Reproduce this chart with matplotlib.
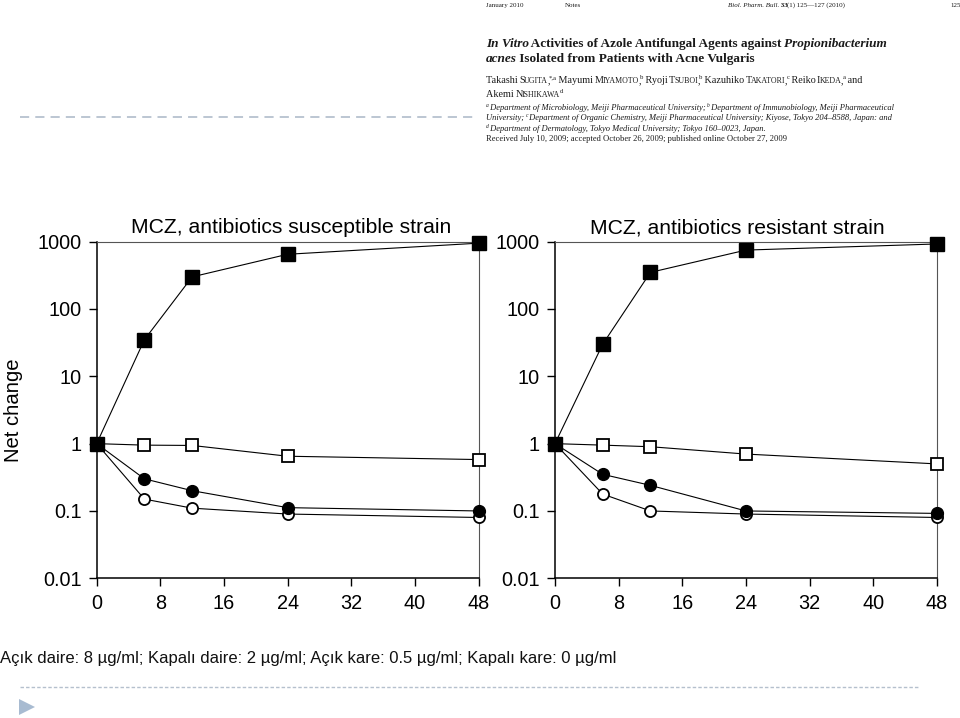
import matplotlib
matplotlib.use("Agg")
import matplotlib.pyplot as plt
from matplotlib.ticker import NullLocator

plt.rcParams['font.family'] = ['Liberation Sans', 'DejaVu Sans']

# time points (h) and net change values
hours = [0, 6, 12, 24, 48]
susceptible_0 = [1, 35, 300, 650, 950]
susceptible_05 = [1, 0.95, 0.94, 0.65, 0.58]
susceptible_2 = [1, 0.30, 0.20, 0.112, 0.10]
susceptible_8 = [1, 0.15, 0.11, 0.09, 0.08]
resistant_0 = [1, 30, 350, 750, 925]
resistant_05 = [1, 0.95, 0.90, 0.70, 0.50]
resistant_2 = [1, 0.35, 0.24, 0.10, 0.092]
resistant_8 = [1, 0.178, 0.10, 0.09, 0.08]

xticks = [0, 8, 16, 24, 32, 40, 48]
yticks = [0.01, 0.1, 1, 10, 100, 1000]
ytick_labels = ['0.01', '0.1', '1', '10', '100', '1000']

titles = ['MCZ, antibiotics susceptible strain', 'MCZ, antibiotics resistant strain']
caption = 'Açık daire: 8 µg/ml; Kapalı daire: 2 µg/ml; Açık kare: 0.5 µg/ml; Kapalı kare: 0 µg/ml'

fig = plt.figure(figsize=(9.6, 7.18), dpi=100)

# background axes in pixel coordinates for the slide decoration
bg = fig.add_axes([0, 0, 1, 1], zorder=-1)
bg.set_xlim(0, 960)
bg.set_ylim(718, 0)
bg.axis('off')

SERIF = ['Liberation Serif', 'DejaVu Serif']
INK = '#1a1a1a'


def text_line(x, y, pieces, size):
    """Draw one baseline of text made of styled pieces, chained left to right."""
    prev = None
    for txt, style in pieces:
        kw = dict(fontsize=size, family=SERIF, color=INK)
        rise = 0
        if style.get('b'):
            kw['fontweight'] = 'bold'
        if style.get('i'):
            kw['fontstyle'] = 'italic'
        if style.get('sc'):
            kw['fontsize'] = size * 0.78
        if style.get('sup'):
            kw['fontsize'] = size * 0.65
            rise = size * 0.4
        if prev is None:
            coords, xy, kern = 'data', (x, y), 0
        else:
            # matplotlib text boxes carry a little side bearing, pull pieces together
            coords, xy, kern = (prev, 'data'), (1, y), -0.08 * size
        prev = bg.annotate(txt, xy=xy, xycoords=coords, xytext=(kern, rise),
                           textcoords='offset points', va='baseline', ha='left', **kw)
    return prev


N = {}
B = {'b': True}
BI = {'b': True, 'i': True}
I = {'i': True}
SC = {'sc': True}
SUP = {'sup': True}
ISUP = {'sup': True, 'i': True}

# journal header
text_line(486, 7, [('January 2010', N)], 5)
text_line(565, 7, [('Notes', N)], 5)
text_line(728, 7, [('Biol. Pharm. Bull.', I), (' 33', B), ('(1) 125—127 (2010)', N)], 5)
text_line(950, 7, [('125', N)], 5)

text_line(486, 47, [('In Vitro', BI), (' Activities of Azole Antifungal Agents against ', B),
                    ('Propionibacterium', BI)], 9.5)
text_line(486, 62, [('acnes', BI), (' Isolated from Patients with Acne Vulgaris', B)], 9.5)

text_line(486, 83, [('Takashi ', N), ('S', N), ('UGITA', SC), (',', N), ('*,a', SUP),
                    (' Mayumi ', N), ('M', N), ('IYAMOTO', SC), (',', N), ('b', SUP),
                    (' Ryoji ', N), ('T', N), ('SUBOI', SC), (',', N), ('b', SUP),
                    (' Kazuhiko ', N), ('T', N), ('AKATORI', SC), (',', N), ('c', SUP),
                    (' Reiko ', N), ('I', N), ('KEDA', SC), (',', N), ('a', SUP), (' and', N)], 7.3)
text_line(486, 97, [('Akemi ', N), ('N', N), ('ISHIKAWA', SC), ('d', SUP)], 7.3)

text_line(486, 110, [('a', ISUP), (' Department of Microbiology, Meiji Pharmaceutical University; ', I),
                     ('b', ISUP), (' Department of Immunobiology, Meiji Pharmaceutical', I)], 6.15)
text_line(486, 120, [('University; ', I), ('c', ISUP),
                     (' Department of Organic Chemistry, Meiji Pharmaceutical University; Kiyose, Tokyo 204–8588, Japan: and', I)], 6.15)
text_line(486, 131, [('d', ISUP), (' Department of Dermatology, Tokyo Medical University; Tokyo 160–0023, Japan.', I)], 6.15)
text_line(486, 141, [('Received July 10, 2009; accepted October 26, 2009; published online October 27, 2009', N)], 6.15)

# slide decoration
bg.plot([20, 475], [117, 117], color='#a9b6c6', lw=1.1, linestyle=(0, (6, 4)))
bg.plot([20, 920], [687, 687], color='#b5c0cd', lw=1.0, linestyle=(0, (2.5, 1.5)))
bg.plot([27], [707], marker='>', ms=12, color='#a8bbd1', markeredgewidth=0)

bg.text(0, 658, caption, fontsize=12, va='center', ha='left', color='#111111')

# charts
panels = [
    (0.1007, 0.508, titles[0], susceptible_0, susceptible_05, susceptible_2, susceptible_8),
    (0.5781, 0.477, titles[1], resistant_0, resistant_05, resistant_2, resistant_8),
]

for left, title_x, title, v0, v05, v2, v8 in panels:
    ax = fig.add_axes([left, 0.1946, 0.3978, 0.4688])
    ax.set_yscale('log')
    ax.set_xlim(0, 48)
    ax.set_ylim(0.01, 1000)

    ax.plot(hours, v05, color='black', lw=0.8, marker='s', ms=8, mfc='white',
            mec='black', mew=1.3, clip_on=False, zorder=3)
    ax.plot(hours, v8, color='black', lw=0.8, marker='o', ms=8, mfc='white',
            mec='black', mew=1.3, clip_on=False, zorder=3)
    ax.plot(hours, v2, color='black', lw=0.8, marker='o', ms=8.5, mfc='black',
            mec='black', clip_on=False, zorder=4)
    ax.plot(hours, v0, color='black', lw=0.8, marker='s', ms=9.5, mfc='black',
            mec='black', clip_on=False, zorder=5)

    ax.set_xticks(xticks)
    ax.set_yticks(yticks, labels=ytick_labels)
    ax.yaxis.set_minor_locator(NullLocator())
    ax.tick_params(axis='both', direction='out', length=6, width=1, labelsize=14.3, pad=5)

    for side in ['left', 'bottom']:
        ax.spines[side].set_linewidth(1.1)
        ax.spines[side].set_color('black')
    for side in ['top', 'right']:
        ax.spines[side].set_linewidth(0.8)
        ax.spines[side].set_color('#555555')

    ax.set_title(title, fontsize=15.2, pad=6, x=title_x)
    if left < 0.3:
        ax.set_ylabel('Net change', fontsize=14.6, labelpad=10)

fig.savefig('out.png', dpi=100)
